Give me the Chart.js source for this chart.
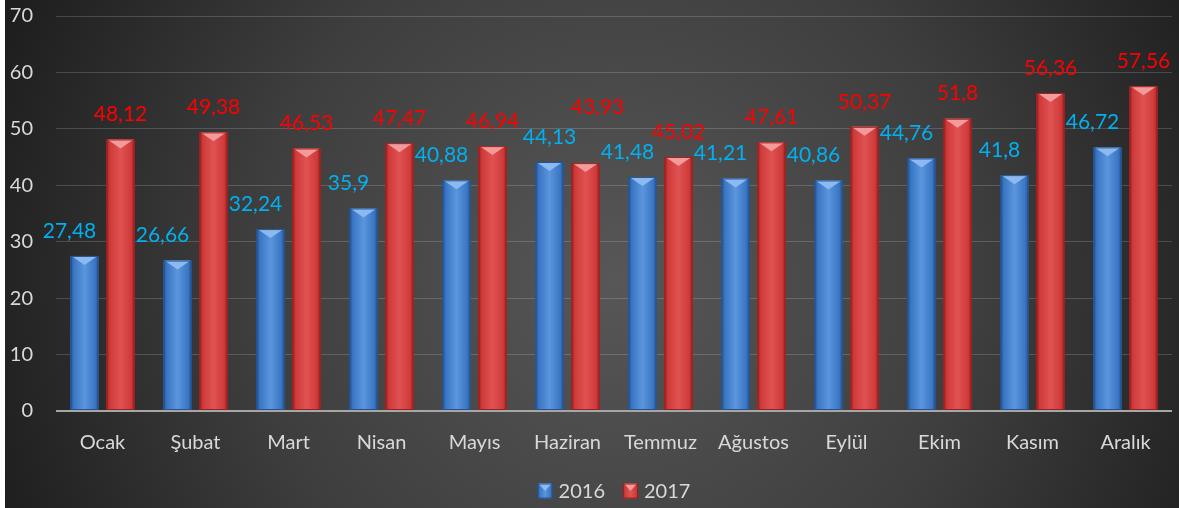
<!DOCTYPE html>
<html lang="tr">
<head>
<meta charset="utf-8">
<title>2016 - 2017 aylık karşılaştırma</title>
<script src="https://cdn.jsdelivr.net/npm/chart.js@4.4.1/dist/chart.umd.min.js"></script>
<style>
    html, body { margin: 0; padding: 0; background: #fff; }
    #wrap { position: absolute; left: 5px; top: 0; width: 1174px; height: 508px; }
</style>
</head>
<body>
<div id="wrap"><canvas id="chart" width="1174" height="508"></canvas></div>
<script>
// Datos del gráfico
const MESES = ['Ocak', 'Şubat', 'Mart', 'Nisan', 'Mayıs', 'Haziran', 'Temmuz', 'Ağustos', 'Eylül', 'Ekim', 'Kasım', 'Aralık'];
const SERIES = ['2016', '2017'];
const VALORES_2016 = [27.48, 26.66, 32.24, 35.9, 40.88, 44.13, 41.48, 41.21, 40.86, 44.76, 41.8, 46.72];
const VALORES_2017 = [48.12, 49.38, 46.53, 47.47, 46.94, 43.93, 45.02, 47.61, 50.37, 51.8, 56.36, 57.56];
const Y_MAX = 70;
const Y_PASO = 10;

// Paleta: base, borde oscuro, brillo y color de la etiqueta
const AZUL = { base: '#3b76c4', dark: '#23528f', light: '#5a95dd', cap: '#8cbaf0', label: '#00b0f0' };
const ROJO = { base: '#cf3a3a', dark: '#98201f', light: '#e05252', cap: '#f39a9a', label: '#ff0000' };
const PALETAS = [AZUL, ROJO];
const TEXTO = '#d9d9d9';
const FUENTE = 'Lato, "Noto Sans", sans-serif';

// Formato turco: coma decimal
function fmt(v) { return String(v).replace('.', ','); }

// Fondo con degradado radial (gris claro al centro, oscuro en las esquinas)
const fondo = {
    id: 'fondo',
    beforeDraw(chart) {
        const { ctx, width, height } = chart;
        const cx = width * 0.52, cy = height * 0.55;
        const g = ctx.createRadialGradient(cx, cy, 0, cx, cy, 660);
        g.addColorStop(0, '#575757');
        g.addColorStop(0.55, '#3e3e3e');
        g.addColorStop(1, '#1e1e1e');
        ctx.save();
        ctx.fillStyle = g;
        ctx.fillRect(0, 0, width, height);
        ctx.restore();
    }
};

// Dibuja una columna con sombreado cilíndrico y remate biselado
function pintarColumna(ctx, l, top, w, bottom, pal) {
    const r = l + w;
    const g = ctx.createLinearGradient(l, 0, r, 0);
    g.addColorStop(0, pal.dark);
    g.addColorStop(0.12, pal.base);
    g.addColorStop(0.5, pal.light);
    g.addColorStop(0.88, pal.base);
    g.addColorStop(1, pal.dark);
    ctx.fillStyle = g;
    ctx.fillRect(l, top, w, bottom - top);
    // remate superior: triángulo claro
    const cap = Math.min(9, (bottom - top) / 2);
    ctx.beginPath();
    ctx.moveTo(l + 1, top);
    ctx.lineTo(r - 1, top);
    ctx.lineTo((l + r) / 2, top + cap);
    ctx.closePath();
    ctx.fillStyle = pal.cap;
    ctx.fill();
    ctx.strokeStyle = pal.dark;
    ctx.lineWidth = 1;
    ctx.strokeRect(l + 0.5, top + 0.5, w - 1, bottom - top - 1);
}

// Columnas biseladas + etiquetas de datos encima
const columnas = {
    id: 'columnas',
    afterDatasetsDraw(chart) {
        const ctx = chart.ctx;
        ctx.save();
        chart.data.datasets.forEach((ds, di) => {
            const meta = chart.getDatasetMeta(di);
            const pal = PALETAS[di];
            meta.data.forEach((bar) => {
                const { x, y, base, width } = bar.getProps(['x', 'y', 'base', 'width'], true);
                pintarColumna(ctx, x - width / 2, y, width, base, pal);
            });
        });

        // Etiquetas: la de 2016 algo a la izquierda; si chocan con la
        // de 2017 (alturas casi iguales), la de 2017 sube por encima
        ctx.font = '21px ' + FUENTE;
        ctx.textAlign = 'center';
        ctx.textBaseline = 'middle';
        const azules = chart.getDatasetMeta(0).data;
        const rojas = chart.getDatasetMeta(1).data;
        azules.forEach((b, i) => {
            const r = rojas[i];
            let bx = b.x - 15, by = b.y - 25;
            let rx = r.x, ry = r.y - 25;
            if (Math.abs(by - ry) < 18) {
                bx = b.x;
                rx = r.x + 12;
                ry = Math.min(by, ry) - 30;
            }
            ctx.fillStyle = AZUL.label;
            ctx.fillText(fmt(VALORES_2016[i]), bx, by);
            ctx.fillStyle = ROJO.label;
            ctx.fillText(fmt(VALORES_2017[i]), rx, ry);
        });
        ctx.restore();
    }
};

// Leyenda propia, centrada bajo el área de trazado
const leyenda = {
    id: 'leyenda',
    afterDraw(chart) {
        const { ctx, chartArea } = chart;
        const caja = 15, hueco = 6, sep = 18;
        ctx.save();
        ctx.font = '20px ' + FUENTE;
        ctx.textBaseline = 'middle';
        ctx.textAlign = 'left';
        const anchos = SERIES.map((s) => caja + hueco + ctx.measureText(s).width);
        const total = anchos.reduce((a, b) => a + b, 0) + sep * (SERIES.length - 1);
        let x = (chartArea.left + chartArea.right) / 2 - total / 2;
        const y = chart.height - 17;
        SERIES.forEach((s, i) => {
            pintarColumna(ctx, x, y - caja / 2, caja, y + caja / 2, PALETAS[i]);
            ctx.fillStyle = TEXTO;
            ctx.fillText(s, x + caja + hueco, y + 1);
            x += anchos[i] + sep;
        });
        ctx.restore();
    }
};

new Chart(document.getElementById('chart'), {
    type: 'bar',
    data: {
        labels: MESES,
        datasets: [
            { label: SERIES[0], data: VALORES_2016, backgroundColor: AZUL.base },
            { label: SERIES[1], data: VALORES_2017, backgroundColor: ROJO.base }
        ]
    },
    options: {
        responsive: false,
        animation: false,
        categoryPercentage: 0.774,
        barPercentage: 0.78,
        layout: { padding: { top: 4, right: 7, left: 0, bottom: 52 } },
        plugins: {
            legend: { display: false },
            tooltip: { enabled: false }
        },
        scales: {
            x: {
                afterFit(scale) { scale.height = 45; },
                grid: { display: false },
                border: { display: false },
                ticks: { color: TEXTO, font: { family: FUENTE, size: 20 }, padding: 12, maxRotation: 0 }
            },
            y: {
                min: 0, max: Y_MAX,
                afterFit(scale) { scale.width = 51; },
                grid: {
                    color: (c) => (c.tick && c.tick.value === 0 ? '#a6a6a6' : 'rgba(255,255,255,0.17)'),
                    lineWidth: (c) => (c.tick && c.tick.value === 0 ? 2 : 1),
                    drawTicks: true,
                    tickLength: 19,
                    tickColor: 'transparent'
                },
                border: { display: false },
                ticks: { stepSize: Y_PASO, color: TEXTO, font: { family: FUENTE, size: 20 }, padding: 4 }
            }
        }
    },
    plugins: [fondo, columnas, leyenda]
});
</script>
</body>
</html>
